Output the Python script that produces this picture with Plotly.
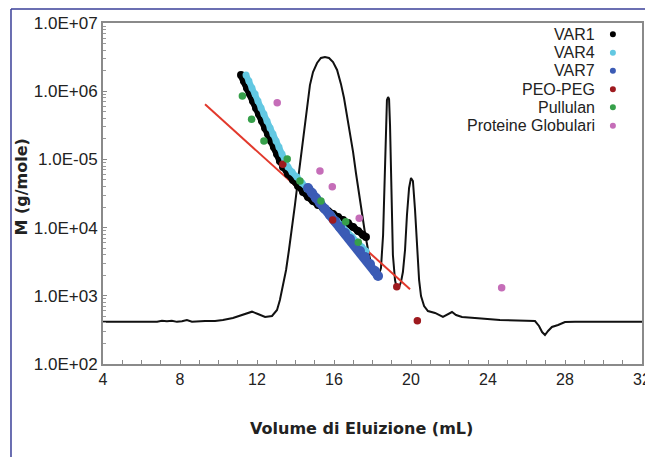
import plotly.graph_objects as go

# ---------------- data ----------------
# Chromatogram trace (drawn on the molar-mass axis)
chrom_x = [4.00, 6.81, 7.06, 7.32, 7.58, 7.84, 8.10, 8.36, 8.62, 8.88, 9.30, 9.82, 10.23, 10.75,
           11.27, 11.74, 12.05, 12.42, 12.78, 13.04, 13.19, 13.35, 13.51, 13.66, 13.82, 13.97,
           14.13, 14.29, 14.44, 14.60, 14.75, 14.91, 15.12, 15.32, 15.53, 15.74, 15.95, 16.16,
           16.36, 16.52, 16.68, 16.83, 16.99, 17.14, 17.30, 17.45, 17.61, 17.77, 17.92, 18.08,
           18.23, 18.34, 18.44, 18.55, 18.60, 18.65, 18.70, 18.75, 18.81, 18.86, 18.91, 18.96,
           19.01, 19.06, 19.17, 19.27, 19.38, 19.48, 19.58, 19.69, 19.79, 19.90, 20.00, 20.10,
           20.21, 20.31, 20.42, 20.52, 20.68, 20.88, 21.25, 21.66, 21.92, 22.13, 22.34, 22.65,
           23.32, 24.62, 26.44, 26.65, 26.81, 26.96, 27.12, 27.32, 27.64, 28.00, 28.52, 32.00]
chrom_m = [417, 417, 430, 422, 432, 415, 425, 440, 418, 425, 427, 427, 441, 472,
           523, 585, 541, 489, 506, 619, 867, 1440, 2390, 4695, 9865, 2.14e4,
           4.99e4, 1.16e5, 2.70e5, 6.28e5, 1.23e6, 1.91e6, 2.59e6, 3.07e6, 3.17e6, 3.07e6, 2.68e6, 2.05e6,
           1.28e6, 7.94e5, 4.48e5, 2.44e5, 1.29e5, 6.32e4, 3.11e4, 1.58e4, 8337, 4695, 3027, 2312,
           2089, 2089, 2556, 7799, 2.54e4, 9.80e4, 4.05e5, 7.43e5, 8.22e5, 7.69e5, 3.19e5, 5.90e4,
           1.29e4, 3965, 1706, 1259, 1346, 1594, 2234, 4695, 1.53e4, 3.81e4, 5.33e4, 4.82e4,
           1.81e4, 4695, 1706, 993, 708, 598, 560, 489, 541, 578, 523, 489,
           472, 441, 427, 361, 294, 266, 305, 349, 373, 413, 417, 417]

# Linear calibration fit (PEO-PEG)
fit_x = [9.30, 19.95]
fit_m = [6.43e5, 1245]

# VAR1
var1_x = [11.17, 11.32, 11.48, 11.64, 11.79, 11.95, 12.10, 12.26, 12.42, 12.57, 12.73, 12.88,
          13.04, 13.19, 13.35, 13.61, 13.87, 14.13, 14.39, 14.65, 14.91, 15.17, 15.43, 15.69,
          15.95, 16.21, 16.47, 16.73, 16.99, 17.25, 17.51, 17.66]
var1_m = [1.73e6, 1.41e6, 1.11e6, 9.10e5, 7.18e5, 5.67e5, 4.63e5, 3.66e5, 2.88e5, 2.36e5, 1.86e5, 1.52e5,
          1.20e5, 9.48e4, 7.74e4, 6.11e4, 4.99e4, 4.07e4, 3.33e4, 2.81e4, 2.45e4, 2.14e4, 1.94e4, 1.75e4,
          1.58e4, 1.43e4, 1.29e4, 1.17e4, 1.02e4, 8910, 7780, 7280]

# VAR4
var4_x = [11.43, 11.58, 11.74, 11.90, 12.05, 12.21, 12.36, 12.52, 12.68, 12.83, 12.99, 13.14,
          13.30, 13.45, 13.61, 13.82, 14.08, 14.34, 14.60, 14.86, 15.12, 15.38, 15.64, 15.90,
          16.16, 16.42, 16.68, 16.94, 17.19, 17.45, 17.66]
var4_m = [1.73e6, 1.41e6, 1.11e6, 9.10e5, 7.18e5, 5.67e5, 4.63e5, 3.66e5, 2.88e5, 2.36e5, 1.86e5, 1.52e5,
          1.20e5, 9.48e4, 7.74e4, 6.53e4, 5.52e4, 4.51e4, 3.68e4, 3.11e4, 2.54e4, 2.14e4, 1.75e4, 1.48e4,
          1.25e4, 1.02e4, 8610, 7280, 6150, 5200, 4540]

# VAR7
var7_x = [14.65, 14.86, 15.06, 15.27, 15.53, 15.79, 16.05, 16.31, 16.57, 16.83, 17.09, 17.35,
          17.61, 17.87, 18.13, 18.29]
var7_m = [3.81e4, 3.21e4, 2.72e4, 2.30e4, 1.87e4, 1.53e4, 1.25e4, 1.02e4, 8340, 6810, 5560, 4540,
          3710, 2930, 2310, 1950]

# PEO-PEG standards
peo_x = [13.34, 15.93, 19.26, 20.33]
peo_m = [8.47e4, 1.29e4, 1359, 431]

# Pullulan standards
pul_x = [11.24, 11.72, 12.36, 13.57, 14.23, 15.32, 16.61, 17.26]
pul_m = [8.51e5, 3.87e5, 1.86e5, 1.01e5, 4.82e4, 2.45e4, 1.22e4, 6080]

# Globular proteins
prot_x = [13.05, 15.27, 15.91, 17.31, 24.71]
prot_m = [6.78e5, 6.76e4, 3.98e4, 1.37e4, 1315]

series_names = ["VAR1", "VAR4", "VAR7", "PEO-PEG", "Pullulan", "Proteine Globulari"]
series_colors = ["#000000", "#62c8e2", "#3b5bb5", "#9e1a1f", "#36a04a", "#c56db8"]

y_tickvals = [1e2, 1e3, 1e4, 1e5, 1e6, 1e7]
y_ticktext = ["1.0E+02", "1.0E+03", "1.0E+04", "1.0E-05", "1.0E+06", "1.0E+07"]
x_tickvals = [4, 8, 12, 16, 20, 24, 28, 32]

# ---------------- figure ----------------
fig = go.Figure()

fig.add_trace(go.Scatter(x=chrom_x, y=chrom_m, mode="lines",
                         line=dict(color="#111111", width=2), showlegend=False, hoverinfo="skip"))
fig.add_trace(go.Scatter(x=fit_x, y=fit_m, mode="lines",
                         line=dict(color="#e2392c", width=2), showlegend=False, hoverinfo="skip"))

# dense instrument series: drawn as continuous bands of points
band_sets = [(var1_x, var1_m, 8), (var4_x, var4_m, 7), (var7_x, var7_m, 10)]
for (xs, ms, sz), name, col in zip(band_sets, series_names[:3], series_colors[:3]):
    fig.add_trace(go.Scatter(x=xs, y=ms, mode="lines+markers", name=name,
                             line=dict(color=col, width=sz - 1),
                             marker=dict(color=col, size=sz, line=dict(width=0)),
                             showlegend=False))

point_sets = [(peo_x, peo_m), (pul_x, pul_m), (prot_x, prot_m)]
for (xs, ms), name, col in zip(point_sets, series_names[3:], series_colors[3:]):
    fig.add_trace(go.Scatter(x=xs, y=ms, mode="markers", name=name,
                             marker=dict(color=col, size=7.5, line=dict(width=0)),
                             showlegend=False))

# legend (text right-aligned with marker on the right)
leg_y = [0.967, 0.913, 0.860, 0.806, 0.753, 0.699]
for name, col, yy in zip(series_names, series_colors, leg_y):
    fig.add_annotation(x=0.9165, y=yy, xref="paper", yref="paper", text=name,
                       showarrow=False, xanchor="right", yanchor="middle",
                       font=dict(family="Liberation Sans", size=16, color="#222222"))
    fig.add_shape(type="circle", xref="paper", yref="paper", xsizemode="pixel", ysizemode="pixel",
                  xanchor=0.946, yanchor=yy, x0=-3, x1=3, y0=-3, y1=3,
                  fillcolor=col, line=dict(width=0))

# axis titles
fig.add_annotation(x=0.4805, y=-0.188, xref="paper", yref="paper", text="Volume di Eluizione (mL)",
                   showarrow=False, xanchor="center", yanchor="middle",
                   font=dict(family="DejaVu Sans", size=16, color="#222222", weight="bold"))
fig.add_annotation(x=-0.152, y=0.5176, xref="paper", yref="paper", text="M (g/mole)",
                   showarrow=False, xanchor="center", yanchor="middle", textangle=-90,
                   font=dict(family="DejaVu Sans", size=16, color="#222222", weight="bold"))

# outer blue frame
frame_col = "#3a3f98"
fig.add_shape(type="line", xref="paper", yref="paper", x0=-0.1707, x1=1.01, y0=1.041, y1=1.041,
              line=dict(color=frame_col, width=1.5))
fig.add_shape(type="line", xref="paper", yref="paper", x0=-0.1707, x1=-0.1707, y0=1.041, y1=-0.28,
              line=dict(color=frame_col, width=1.5))

minor_y = [m * 10 ** e for e in range(2, 7) for m in range(2, 10)]

fig.update_xaxes(range=[4, 32], tickvals=x_tickvals, ticks="inside", ticklen=4, tickcolor="#888888",
                 showline=True, linecolor="#8a8a8a", linewidth=2, mirror=True, showgrid=False,
                 zeroline=False, ticklabeloverflow="allow", automargin=False,
                 tickfont=dict(family="Liberation Sans", size=16, color="#222222"),
                 minor=dict(dtick=1, ticks="inside", ticklen=4, tickcolor="#888888", showgrid=False))
fig.update_yaxes(type="log", range=[2, 7], tickvals=y_tickvals, ticktext=y_ticktext,
                 ticks="inside", ticklen=4, tickcolor="#888888", automargin=False,
                 showline=True, linecolor="#8a8a8a", linewidth=2, mirror=True, showgrid=False,
                 zeroline=False,
                 tickfont=dict(family="Liberation Sans", size=17, color="#222222"),
                 minor=dict(tickvals=minor_y, ticks="inside", ticklen=3, tickcolor="#999999",
                            showgrid=False))

fig.update_layout(width=645, height=457, margin=dict(l=103, r=3, t=23, b=93, autoexpand=False),
                  paper_bgcolor="white", plot_bgcolor="white", showlegend=False)

fig.write_html("out.html")
